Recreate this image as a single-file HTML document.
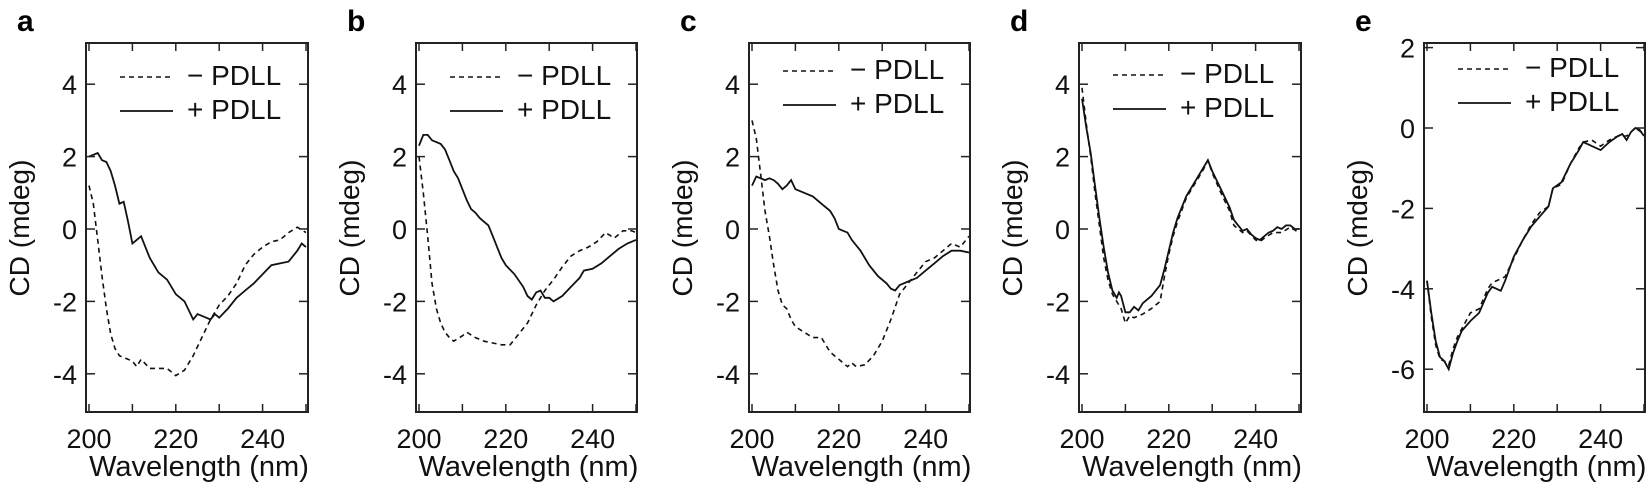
<!DOCTYPE html>
<html><head><meta charset="utf-8"><style>
html,body{margin:0;padding:0;background:#fff;}
svg{display:block;font-family:"Liberation Sans",Arial,sans-serif;}
</style></head><body>
<svg id="s" width="1651" height="494" viewBox="0 0 1651 494" xmlns="http://www.w3.org/2000/svg"></svg>
<script>
(function(){
const P=[
 {L:'a',fl:86,fr:308,x0:89,y0:229,k:36.2,ticks:[4,2,0,-2,-4],
  s:[[200,2.0],[201,2.05],[202,2.1],[203,1.9],[204,1.85],[205,1.6],[206,1.2],[207,0.7],[208,0.75],[209,0.2],[210,-0.4],[211,-0.3],[212,-0.2],[213,-0.5],[214,-0.8],[216,-1.2],[218,-1.4],[220,-1.8],[222,-2.0],[224,-2.5],[225,-2.35],[227,-2.45],[228,-2.5],[229,-2.35],[230,-2.45],[232,-2.2],[234,-1.9],[236,-1.7],[238,-1.5],[240,-1.25],[242,-1.0],[244,-0.95],[246,-0.9],[248,-0.6],[249,-0.4],[250,-0.5]],
  d:[[200,1.2],[201,0.7],[202,-0.3],[203,-1.3],[204,-2.2],[205,-2.9],[206,-3.3],[207,-3.5],[208,-3.55],[210,-3.65],[211,-3.8],[212,-3.6],[214,-3.85],[216,-3.85],[218,-3.85],[220,-4.05],[222,-3.9],[224,-3.5],[226,-3.0],[228,-2.5],[230,-2.1],[232,-1.85],[234,-1.5],[236,-1.0],[238,-0.7],[240,-0.5],[242,-0.35],[244,-0.3],[246,-0.1],[248,0.05],[250,-0.1]]},
 {L:'b',fl:416,fr:637,x0:419,y0:229,k:36.2,ticks:[4,2,0,-2,-4],
  s:[[200,2.3],[201,2.6],[202,2.6],[203,2.45],[205,2.35],[206,2.2],[207,1.9],[208,1.6],[209,1.4],[210,1.1],[211,0.8],[212,0.55],[213,0.45],[214,0.3],[215,0.2],[216,0.1],[217,-0.2],[218,-0.5],[219,-0.8],[220,-1.0],[222,-1.25],[224,-1.6],[225,-1.85],[226,-1.95],[227,-1.75],[228,-1.7],[229,-1.9],[230,-1.9],[231,-2.0],[233,-1.85],[235,-1.6],[237,-1.35],[238,-1.15],[240,-1.1],[242,-0.95],[244,-0.75],[246,-0.55],[248,-0.4],[250,-0.3]],
  d:[[200,2.0],[201,1.0],[202,-0.2],[203,-1.5],[204,-2.2],[205,-2.6],[206,-2.85],[207,-3.0],[208,-3.1],[210,-2.95],[211,-2.85],[213,-3.0],[215,-3.1],[217,-3.15],[219,-3.2],[221,-3.2],[223,-2.9],[225,-2.6],[227,-2.1],[229,-1.7],[231,-1.4],[233,-1.05],[235,-0.75],[237,-0.6],[239,-0.5],[241,-0.35],[243,-0.1],[245,-0.25],[247,-0.05],[249,-0.05],[250,-0.1]]},
 {L:'c',fl:749,fr:970,x0:752,y0:229,k:36.2,ticks:[4,2,0,-2,-4],
  s:[[200,1.2],[201,1.45],[202,1.4],[203,1.35],[204,1.4],[205,1.35],[206,1.25],[207,1.1],[208,1.2],[209,1.35],[210,1.1],[212,1.0],[214,0.9],[216,0.7],[218,0.5],[219,0.3],[220,0.0],[221,-0.05],[222,-0.1],[223,-0.3],[225,-0.6],[227,-1.0],[229,-1.3],[231,-1.5],[232,-1.65],[233,-1.7],[234,-1.55],[236,-1.45],[238,-1.35],[240,-1.15],[242,-0.95],[244,-0.75],[246,-0.6],[248,-0.6],[250,-0.65]],
  d:[[200,3.0],[201,2.5],[202,1.5],[203,0.5],[204,-0.2],[205,-1.0],[206,-1.7],[207,-2.1],[208,-2.2],[209,-2.5],[210,-2.7],[212,-2.85],[214,-3.0],[216,-3.0],[218,-3.4],[220,-3.6],[222,-3.8],[223,-3.7],[224,-3.8],[226,-3.75],[228,-3.5],[230,-3.1],[232,-2.5],[234,-1.8],[236,-1.5],[238,-1.2],[240,-0.9],[242,-0.8],[244,-0.6],[246,-0.4],[248,-0.5],[250,-0.2]]},
 {L:'d',fl:1079,fr:1301,x0:1082,y0:229,k:36.2,ticks:[4,2,0,-2,-4],
  s:[[200,3.6],[201,2.8],[202,2.1],[203,1.2],[204,0.3],[205,-0.5],[206,-1.2],[207,-1.7],[208,-1.9],[208.5,-1.75],[209,-1.85],[210,-2.3],[211,-2.3],[212,-2.15],[213,-2.25],[214,-2.05],[215,-1.95],[216,-1.85],[218,-1.55],[219,-1.1],[220,-0.6],[221,-0.1],[222,0.3],[224,0.9],[226,1.3],[228,1.7],[229,1.9],[230,1.6],[232,1.1],[234,0.6],[235,0.25],[236,0.1],[237,-0.05],[238,0.0],[239,-0.15],[240,-0.25],[241,-0.3],[242,-0.2],[243,-0.1],[244,-0.05],[245,0.05],[246,0.0],[247,0.1],[248,0.1],[249,0.0],[250,0.0]],
  d:[[200,3.9],[201,2.9],[202,2.0],[203,1.0],[204,0.1],[205,-0.8],[206,-1.4],[207,-1.8],[208,-2.0],[209,-2.2],[210,-2.6],[211,-2.4],[212,-2.45],[214,-2.35],[216,-2.2],[218,-2.0],[219,-1.3],[220,-0.7],[221,-0.2],[222,0.2],[224,0.85],[226,1.25],[228,1.65],[229,1.9],[230,1.55],[232,1.0],[234,0.5],[235,0.1],[237,-0.1],[238,-0.05],[240,-0.3],[241,-0.35],[242,-0.25],[244,-0.1],[246,-0.1],[248,0.05],[250,-0.1]]},
 {L:'e',fl:1424,fr:1645,x0:1427,y0:128,k:40.2,ticks:[2,0,-2,-4,-6],
  s:[[200,-3.8],[201,-4.6],[202,-5.3],[203,-5.7],[204,-5.8],[205,-6.0],[206,-5.6],[207,-5.3],[208,-5.05],[210,-4.8],[212,-4.6],[214,-4.1],[215,-3.95],[217,-4.05],[218,-3.8],[220,-3.2],[222,-2.8],[224,-2.45],[226,-2.2],[228,-1.95],[229,-1.5],[231,-1.35],[233,-0.9],[235,-0.55],[236,-0.35],[238,-0.45],[240,-0.55],[242,-0.35],[244,-0.2],[245,-0.15],[246,-0.3],[247,-0.1],[248,0.0],[249,-0.05],[250,-0.2]],
  d:[[200,-3.8],[201,-4.7],[202,-5.4],[203,-5.75],[204,-5.8],[205,-5.9],[206,-5.5],[207,-5.2],[208,-5.0],[210,-4.6],[212,-4.5],[214,-4.0],[215,-3.85],[217,-3.75],[218,-3.7],[220,-3.25],[222,-2.8],[224,-2.4],[226,-2.1],[228,-1.95],[229,-1.5],[231,-1.4],[233,-0.9],[235,-0.5],[236,-0.35],[238,-0.3],[240,-0.45],[242,-0.3],[244,-0.2],[246,-0.2],[248,0.0],[250,-0.15]]}
];
var h='';var T=43,B=412,sx=4.34;
P.forEach(function(p){
 var X=function(w){return (p.x0+(w-200)*sx).toFixed(1);},Y=function(v){return (p.y0-v*p.k).toFixed(1);};
 var pts=function(a){return a.map(function(q){return X(q[0])+','+Y(q[1]);}).join(' ');};
 h+='<polyline points="'+pts(p.d)+'" fill="none" stroke="#111" stroke-width="1.6" stroke-dasharray="5,4"/>';
 h+='<polyline points="'+pts(p.s)+'" fill="none" stroke="#111" stroke-width="1.8"/>';
 h+='<rect x="'+p.fl+'" y="'+T+'" width="'+(p.fr-p.fl)+'" height="'+(B-T)+'" fill="none" stroke="#222" stroke-width="2"/>';
 for(var w=200;w<=250;w+=10){var x=X(w);h+='<line x1="'+x+'" y1="'+B+'" x2="'+x+'" y2="'+(B-8)+'" stroke="#222" stroke-width="1.5"/><line x1="'+x+'" y1="'+T+'" x2="'+x+'" y2="'+(T+8)+'" stroke="#222" stroke-width="1.5"/>';}
 [200,220,240].forEach(function(w){h+='<text x="'+X(w)+'" y="448" font-size="27" text-anchor="middle" fill="#111">'+w+'</text>';});
 p.ticks.forEach(function(v){var y=Y(v);h+='<line x1="'+p.fl+'" y1="'+y+'" x2="'+(p.fl+9)+'" y2="'+y+'" stroke="#222" stroke-width="1.5"/><line x1="'+p.fr+'" y1="'+y+'" x2="'+(p.fr-9)+'" y2="'+y+'" stroke="#222" stroke-width="1.5"/>';
  h+='<text x="'+(p.fl-9)+'" y="'+(+y+10).toFixed(1)+'" font-size="27" text-anchor="end" fill="#111">'+(v<0?'-'+(-v):v)+'</text>';});
 var cx=(p.fl+p.fr)/2;
 h+='<text x="'+(cx+2)+'" y="476" font-size="29" text-anchor="middle" fill="#111">Wavelength (nm)</text>';
 h+='<text transform="translate('+(p.fl-57)+',228) rotate(-90)" font-size="28" text-anchor="middle" fill="#111">CD (mdeg)</text>';
 h+='<text x="'+(p.fl-69)+'" y="31" font-size="30" font-weight="bold" fill="#000">'+p.L+'</text>';
 var lx=p.fl+34,ly=(p.L==='a'||p.L==='b')?77:(p.L==='c'?71:(p.L==='d'?75:69));
 h+='<line x1="'+lx+'" y1="'+ly+'" x2="'+(lx+53)+'" y2="'+ly+'" stroke="#111" stroke-width="1.6" stroke-dasharray="5,4"/>';
 h+='<line x1="'+lx+'" y1="'+(ly+34)+'" x2="'+(lx+53)+'" y2="'+(ly+34)+'" stroke="#111" stroke-width="1.8"/>';
 h+='<text x="'+(lx+67)+'" y="'+(ly+8)+'" font-size="28" fill="#111">\u2212 PDLL</text><text x="'+(lx+67)+'" y="'+(ly+42)+'" font-size="28" fill="#111">+ PDLL</text>';
});
document.getElementById('s').innerHTML=h;
})();
</script>
</body></html>
